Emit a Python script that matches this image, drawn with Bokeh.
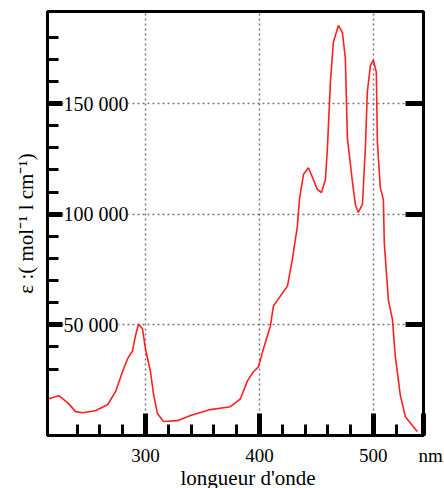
from bokeh.plotting import figure
from bokeh.models import (FixedTicker, LinearAxis, Range1d, LabelSet, Title,
                          ColumnDataSource)
from bokeh.embed import file_html
from bokeh.resources import INLINE

# ---- data ----
wavelength_nm = [215, 224, 232.5, 238.6, 244.7, 256, 266.7, 273.7, 279.8, 284.2,
                 288.6, 291.2, 293.9, 297.4, 300, 304.4, 307, 310.5, 315.8, 328,
                 339.5, 357, 374.6, 383.3, 389.5, 394.7, 399.1, 403.5, 409.6, 412.3,
                 418.4, 424.6, 428.9, 433.3, 435.1, 438.6, 443, 447.4, 450.9, 454.4,
                 457.9, 459.6, 462.3, 464.9, 469.3, 472.8, 475.4, 477.2, 481.6, 484.2,
                 486.8, 490.4, 493, 494.7, 497.4, 500, 502.6, 503.5, 506.1, 508.8,
                 509.6, 513.2, 516.7, 519.3, 523.7, 528.1, 534.2, 538.6]
epsilon = [16600, 18000, 14400, 10800, 10300, 11200, 13900, 19800, 28800, 34600,
           38200, 45000, 50400, 48100, 39100, 28800, 18900, 9900, 6300, 6700,
           9000, 11700, 13000, 16600, 24700, 28800, 31000, 39100, 49500, 58500,
           63000, 67500, 79600, 94500, 106600, 117900, 121000, 115600, 111100, 109800,
           115600, 129100, 159700, 177700, 185300, 182200, 170500, 134500, 114700, 104400,
           100800, 104400, 130000, 155200, 167300, 169600, 164200, 132700, 112000, 106600,
           86800, 61200, 52600, 35500, 18000, 8500, 4500, 1800]

x_major = [300, 400, 500]
x_minor = [240, 260, 280, 320, 340, 360, 380, 420, 440, 460, 480, 520]
y_major = [50000, 100000, 150000]
y_minor = [30000, 40000, 60000, 70000, 80000, 90000, 110000, 120000, 130000,
           140000, 160000, 170000, 180000]
y_tick_labels = ["50 000", "100 000", "150 000"]

x_title = "longueur d'onde"
x_unit = "nm"
y_title = "ε :( mol⁻¹ l cm⁻¹)"

X_START, X_END = 214, 544
Y_START, Y_END = 0, 191600

FONT = "Liberation Serif"

p = figure(width=444, height=488, x_range=Range1d(X_START, X_END),
           y_range=Range1d(Y_START, Y_END), output_backend="svg",
           toolbar_location=None, min_border_left=47, min_border_right=21,
           min_border_top=11, min_border_bottom=51)
p.outline_line_color = "black"
p.outline_line_width = 3

# bottom axis (the unit "nm" sits at the right end of the axis)
xa = p.xaxis[0]
xa.ticker = FixedTicker(ticks=x_major + [X_END], minor_ticks=x_minor)
xa.major_label_overrides = {X_END: "\u00a0\u00a0\u00a0" + x_unit}
xa.axis_line_width = 3
xa.major_tick_in = 22
xa.major_tick_out = 0
xa.minor_tick_in = 11
xa.minor_tick_out = 0
xa.major_tick_line_width = 5
xa.minor_tick_line_width = 3
xa.major_label_text_font = FONT
xa.major_label_text_font_size = "19px"
xa.major_label_text_color = "black"
xa.major_label_standoff = 9

# x title below the axis
p.add_layout(Title(text=x_title, align="left", offset=133, standoff=-6,
                   vertical_align="top",
                   text_font=FONT, text_font_size="21px", text_font_style="normal",
                   text_color="black"), "below")

# left axis
ya = p.yaxis[0]
ya.ticker = FixedTicker(ticks=y_major, minor_ticks=y_minor)
ya.axis_line_width = 3
ya.major_tick_in = 15
ya.major_tick_out = 0
ya.minor_tick_in = 11
ya.minor_tick_out = 0
ya.major_tick_line_width = 5
ya.minor_tick_line_width = 3
ya.major_label_text_font_size = "0px"
ya.major_label_standoff = 0
ya.major_label_overrides = {v: "" for v in y_major}
ya.axis_label = y_title
ya.axis_label_text_font = FONT
ya.axis_label_text_font_size = "21px"
ya.axis_label_text_font_style = "normal"
ya.axis_label_text_color = "black"
ya.axis_label_standoff = 10

# right axis
ra = LinearAxis(ticker=FixedTicker(ticks=y_major, minor_ticks=[]))
ra.axis_line_width = 3
ra.major_tick_in = 18
ra.major_tick_out = 0
ra.minor_tick_in = 0
ra.minor_tick_out = 0
ra.major_tick_line_width = 5
ra.major_label_text_font_size = "0px"
ra.major_label_standoff = 0
ra.major_label_overrides = {v: "" for v in y_major}
p.add_layout(ra, "right")

# grids
p.xgrid.ticker = FixedTicker(ticks=x_major)
p.ygrid.ticker = FixedTicker(ticks=y_major)
for g in (p.xgrid, p.ygrid):
    g.grid_line_color = "#777777"
    g.grid_line_dash = "2 3"
    g.grid_line_width = 1.5

# curve
src = ColumnDataSource(dict(x=wavelength_nm, y=epsilon))
p.line("x", "y", source=src, line_color="#ff2020", line_width=1.6)

# y tick labels inside the frame
lab_src = ColumnDataSource(dict(x=[X_START] * len(y_major), y=y_major, t=y_tick_labels))
p.add_layout(LabelSet(x="x", y="y", text="t", source=lab_src, x_offset=16,
                      text_align="left", text_baseline="middle",
                      text_font=FONT, text_font_size="20px", text_color="black",
                      background_fill_color="white"))

open("out.html", "w").write(file_html(p, INLINE))
